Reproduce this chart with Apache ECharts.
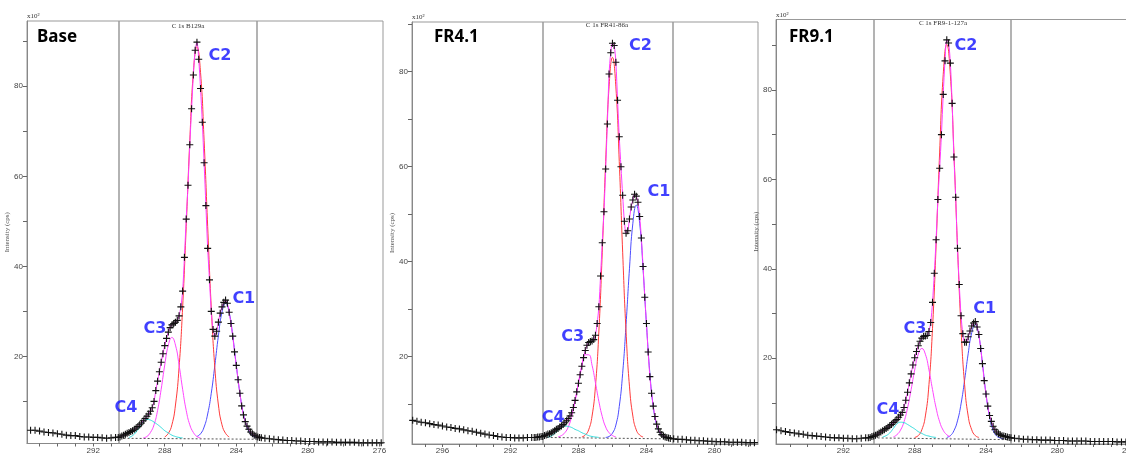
<!DOCTYPE html>
<html>
<head>
<meta charset="utf-8">
<script src="https://cdn.jsdelivr.net/npm/echarts@6/dist/echarts.min.js"></script>
<style>
  html, body { margin: 0; padding: 0; background: #fff; }
  #chart { width: 1126px; height: 458px; }
</style>
</head>
<body>
<div id="chart"></div>
<script>
// binding energy of every measured point (eV)
const energy = [
  297.75, 297.5, 297.25, 297, 296.75, 296.5, 296.25, 296, 295.75, 295.5,
  295.25, 295, 294.75, 294.5, 294.25, 294, 293.75, 293.5, 293.25, 293,
  292.75, 292.5, 292.25, 292, 291.75, 291.5, 291.25, 291, 290.75,
  290.6, 290.5, 290.4, 290.3, 290.2, 290.1, 290.0, 289.9, 289.8, 289.7,
  289.6, 289.5, 289.4, 289.3, 289.2, 289.1, 289.0, 288.9, 288.8, 288.7,
  288.6, 288.5, 288.4, 288.3, 288.2, 288.1, 288.0, 287.9, 287.8, 287.7,
  287.6, 287.5, 287.4, 287.3, 287.2, 287.1, 287.0, 286.9, 286.8, 286.7,
  286.6, 286.5, 286.4, 286.3, 286.2, 286.1, 286.0, 285.9, 285.8, 285.7,
  285.6, 285.5, 285.4, 285.3, 285.2, 285.1, 285.0, 284.9, 284.8, 284.7,
  284.6, 284.5, 284.4, 284.3, 284.2, 284.1, 284.0, 283.9, 283.8, 283.7,
  283.6, 283.5, 283.4, 283.3, 283.2, 283.1, 283.0, 282.9, 282.8, 282.7,
  282.6,
  282.4, 282.15, 281.9, 281.65, 281.4, 281.15, 280.9, 280.65, 280.4, 280.15,
  279.9, 279.65, 279.4, 279.15, 278.9, 278.65, 278.4, 278.15, 277.9, 277.65,
  277.4, 277.15, 276.9, 276.65, 276.4, 276.15, 275.9, 275.65
];

// intensity, x10^2 cps
const baseCounts = [
  null, null, null, null, null, null, null, null, 3.8, 3.6,
  3.6, 3.4, 3.2, 3.1, 3.0, 2.8, 2.7, 2.5, 2.4, 2.4,
  2.2, 2.1, 2.1, 2.0, 2.0, 1.9, 1.8, 1.9, 2.0,
  2.0, 2.1, 2.3, 2.5, 2.7, 2.9, 3.1, 3.3, 3.5, 3.8,
  4.1, 4.4, 4.8, 5.2, 5.7, 6.2, 6.7, 7.2, 7.8, 8.6,
  10.0, 12.4, 14.5, 16.6, 18.7, 20.6, 22.4, 24.0, 25.4, 26.4,
  27.0, 27.3, 27.6, 28.0, 29.0, 31.0, 34.5, 42.0, 50.5, 58.0,
  67.0, 75.0, 82.5, 88.0, 89.8, 86.0, 79.5, 72.0, 63.0, 53.5,
  44.0, 37.0, 30.0, 26.0, 24.5, 25.6, 27.6, 29.6, 31.0, 32.0,
  32.5, 31.8, 29.8, 27.3, 24.5, 21.0, 18.0, 14.8, 11.8, 9.0,
  7.0, 5.5, 4.5, 3.8, 3.2, 2.8, 2.5, 2.3, 2.1, 2.0,
  1.9,
  1.8, 1.7, 1.6, 1.5, 1.4, 1.3, 1.3, 1.2, 1.2, 1.1,
  1.1, 1.1, 1.0, 1.0, 1.0, 1.0, 0.9, 0.9, 0.9, 0.9,
  0.9, 0.8, 0.8, 0.8, 0.8, 0.8, 0.8, null
];
const fr41Counts = [
  6.6, 6.4, 6.2, 6.1, 5.9, 5.7, 5.6, 5.4, 5.2, 5.1,
  4.9, 4.8, 4.6, 4.4, 4.3, 4.1, 3.9, 3.7, 3.5, 3.4,
  3.2, 3.1, 3.0, 3.0, 2.9, 2.9, 2.9, 3.0, 3.0,
  3.0, 3.0, 3.1, 3.1, 3.2, 3.2, 3.4, 3.5, 3.7, 3.8,
  4.0, 4.2, 4.4, 4.7, 4.9, 5.2, 5.4, 5.7, 6.1, 6.5,
  7.0, 7.5, 8.2, 9.3, 10.8, 12.6, 14.4, 16.2, 18.0, 19.8,
  21.3, 22.4, 23.0, 23.2, 23.3, 23.6, 24.5, 27.0, 30.5, 37.0,
  44.0, 50.5, 59.5, 69.0, 79.5, 84.0, 86.0, 85.5, 82.0, 74.0,
  66.3, 60.0, 54.0, 48.5, 46.0, 46.5, 49.0, 51.5, 53.0, 54.2,
  53.8, 52.5, 49.5, 45.0, 39.0, 32.5, 27.0, 21.0, 15.8, 12.3,
  9.6, 7.4, 5.8, 4.8, 4.1, 3.6, 3.3, 3.1, 3.0, 2.9,
  2.8,
  2.7, 2.6, 2.6, 2.5, 2.4, 2.4, 2.3, 2.3, 2.2, 2.2,
  2.1, 2.1, 2.1, 2.0, 2.0, 2.0, 2.0, 1.9, 1.9, 1.9,
  1.9, null, null, null, null, null, null, null
];
const fr91Counts = [
  null, null, null, null, null, null, null, null, 4.0, 3.8,
  3.6, 3.4, 3.3, 3.1, 3.0, 2.8, 2.7, 2.6, 2.5, 2.4,
  2.3, 2.2, 2.2, 2.1, 2.1, 2.0, 2.0, 2.1, 2.2,
  2.2, 2.3, 2.5, 2.6, 2.8, 3.0, 3.3, 3.5, 3.8, 4.0,
  4.3, 4.6, 4.9, 5.2, 5.6, 6.0, 6.3, 6.8, 7.3, 7.9,
  9.0, 10.6, 12.4, 14.5, 16.5, 18.5, 20.1, 21.5, 22.8, 23.8,
  24.5, 24.9, 25.0, 25.1, 26.0, 28.0, 32.5, 39.0, 46.5, 55.5,
  62.5, 70.0, 79.0, 86.5, 91.2, 90.5, 86.0, 77.0, 65.0, 56.0,
  44.6, 36.5, 29.5, 25.5, 23.6, 23.6, 24.8, 26.1, 27.2, 27.9,
  28.2, 27.0, 25.3, 22.2, 18.8, 15.0, 12.0, 9.3, 7.2, 5.9,
  4.8, 4.0, 3.5, 3.1, 2.9, 2.7, 2.6, 2.5, 2.4, 2.3,
  2.2,
  2.1, 2.0, 1.9, 1.9, 1.8, 1.8, 1.7, 1.7, 1.7, 1.6,
  1.6, 1.6, 1.5, 1.5, 1.5, 1.5, 1.5, 1.4, 1.4, 1.4,
  1.4, 1.4, 1.4, 1.3, 1.3, 1.3, 1.3, null
];

// energies of the fitted component curves
const compEnergy = [
  290.6, 290.4, 290.2, 290.0, 289.8, 289.6, 289.4, 289.2, 289.0, 288.8,
  288.6, 288.4, 288.2, 288.0, 287.8, 287.6, 287.4, 287.2, 287.0, 286.8,
  286.6, 286.4, 286.2, 286.0, 285.8, 285.6, 285.4, 285.2, 285.0, 284.8,
  284.6, 284.4, 284.2, 284.0, 283.8, 283.6, 283.4, 283.2, 283.0, 282.8,
  282.6
];

const baseC1 = [
  null, null, null, null, null, null, null, null, null, null,
  null, null, null, null, null, null, null, null, null, null,
  null, null, 2.2, 2.8, 4.3, 7.2, 11.8, 18.0, 24.6, 29.8,
  31.8, 29.8, 24.6, 18.0, 11.8, 7.2, 4.3, 2.8, 2.2, 1.9,
  null
];
const baseC2 = [
  null, null, null, null, null, null, null, null, null, null,
  null, null, null, 2.1, 2.9, 4.8, 9.2, 17.5, 30.9, 48.8,
  67.9, 83.1, 88.8, 83.1, 67.9, 48.8, 30.9, 17.5, 9.2, 4.8,
  2.9, 2.1, null, null, null, null, null, null, null, null,
  null
];
const baseC3 = [
  null, null, null, null, null, null, null, 1.9, 2.2, 3.1,
  4.8, 8.0, 12.7, 18.1, 22.5, 24.2, 22.5, 18.1, 12.7, 8.0,
  4.8, 3.1, 2.2, 1.9, null, null, null, null, null, null,
  null, null, null, null, null, null, null, null, null, null,
  null
];
const baseC4 = [
  null, null, null, 2.0, 2.4, 3.2, 4.35, 5.5, 6.0, 5.85,
  5.4, 4.85, 4.2, 3.5, 3.0, 2.5, 2.2, 2.0, 1.9, null,
  null, null, null, null, null, null, null, null, null, null,
  null, null, null, null, null, null, null, null, null, null,
  null
];

const fr41C1 = [
  null, null, null, null, null, null, null, null, null, null,
  null, null, null, null, null, null, null, null, null, null,
  null, 3.0, 3.2, 3.9, 5.6, 9.5, 16.5, 26.8, 38.5, 48.1,
  51.9, 48.1, 38.5, 26.8, 16.5, 9.5, 5.6, 3.9, 3.2, 3.0,
  2.9
];
const fr41C2 = [
  null, null, null, null, null, null, null, null, null, null,
  null, null, null, null, 3.1, 3.5, 4.6, 7.5, 13.8, 25.2,
  42.0, 61.1, 76.8, 83.0, 76.8, 61.1, 42.0, 25.2, 13.8, 7.5,
  4.6, 3.5, 3.1, null, null, null, null, null, null, null,
  null
];
const fr41C3 = [
  null, null, null, null, null, null, null, 3.1, 3.4, 4.0,
  5.2, 7.4, 10.6, 14.5, 18.2, 20.4, 20.4, 18.2, 14.5, 10.6,
  7.4, 5.2, 4.0, 3.4, 3.1, null, null, null, null, null,
  null, null, null, null, null, null, null, null, null, null,
  null
];
const fr41C4 = [
  null, null, null, null, 3.1, 3.3, 3.8, 4.5, 5.1, 5.4,
  5.3, 5.1, 4.7, 4.4, 4.0, 3.7, 3.4, 3.2, 3.1, 3.0,
  null, null, null, null, null, null, null, null, null, null,
  null, null, null, null, null, null, null, null, null, null,
  null
];

const fr91C1 = [
  null, null, null, null, null, null, null, null, null, null,
  null, null, null, null, null, null, null, null, null, null,
  null, null, 2.3, 2.7, 3.8, 6.0, 9.8, 15.1, 21.0, 25.7,
  27.5, 25.0, 18.9, 12.0, 6.9, 3.9, 2.6, 2.2, 2.0, null,
  null
];
const fr91C2 = [
  null, null, null, null, null, null, null, null, null, null,
  null, null, null, 2.3, 2.7, 4.0, 7.1, 14.1, 26.7, 45.1,
  66.1, 83.4, 90.2, 83.4, 66.1, 45.1, 26.7, 14.1, 7.1, 4.0,
  2.7, 2.3, null, null, null, null, null, null, null, null,
  null
];
const fr91C3 = [
  null, null, null, null, null, null, null, 2.4, 2.9, 3.9,
  5.8, 8.9, 13.0, 17.4, 20.9, 22.2, 20.9, 17.4, 13.0, 8.9,
  5.8, 3.9, 2.9, 2.4, null, null, null, null, null, null,
  null, null, null, null, null, null, null, null, null, null,
  null
];
const fr91C4 = [
  null, null, null, null, 2.4, 2.7, 3.3, 4.3, 5.3, 5.7,
  5.6, 5.2, 4.7, 4.2, 3.6, 3.2, 2.8, 2.6, 2.4, 2.3,
  null, null, null, null, null, null, null, null, null, null,
  null, null, null, null, null, null, null, null, null, null,
  null
];

// background line and fit region limits
const baseBackground = [[290.3, 1.8], [282.8, 1.6]];
const fr41Background = [[290.1, 3.0], [282.5, 2.7]];
const fr91Background = [[290.3, 2.2], [282.7, 1.8]];
const baseRegion = [290.56, 282.85];
const fr41Region = [290.08, 282.44];
const fr91Region = [290.28, 282.6];
const envelopeRange = [282.6, 290.6];

const panelNames = ["Base", "FR4.1", "FR9.1"];
const scanTitles = ["C 1s B129a", "C 1s FR41-86a", "C 1s FR9-1-127a"];
const peakLabels = [
  [["C1", 283.58, 32.7], ["C2", 284.92, 86.7], ["C3", 288.55, 26.1], ["C4", 290.17, 8.5]],
  [["C1", 283.26, 54.6], ["C2", 284.35, 85.4], ["C3", 288.34, 24.1], ["C4", 289.49, 7.2]],
  [["C1", 284.08, 31.0], ["C2", 285.13, 89.8], ["C3", 287.99, 26.5], ["C4", 289.5, 8.4]]
];

const panels = [
  { counts: baseCounts, comps: [baseC1, baseC2, baseC3, baseC4], bg: baseBackground, region: baseRegion },
  { counts: fr41Counts, comps: [fr41C1, fr41C2, fr41C3, fr41C4], bg: fr41Background, region: fr41Region },
  { counts: fr91Counts, comps: [fr91C1, fr91C2, fr91C3, fr91C4], bg: fr91Background, region: fr91Region }
];

// layout of the three plot boxes (pixels) and their axis windows
const layout = [
  { left: 27, top: 21, width: 356, height: 422.5, xMin: 275.8, xMax: 295.7, yMin: 0.65, yMax: 94.5, nameX: 37, scanX: 188, scanY: 26 },
  { left: 412, top: 22, width: 346, height: 422, xMin: 277.44, xMax: 297.79, yMin: 1.62, yMax: 90.46, nameX: 434, scanX: 607, scanY: 25 },
  { left: 776, top: 19.5, width: 356, height: 424.5, xMin: 275.81, xMax: 295.78, yMin: 0.83, yMax: 95.75, nameX: 789, scanX: 943, scanY: 23 }
];

const compColors = ["#4d4dff", "#ff3b3b", "#ff44ff", "#33dddd"];
const plusSymbol = "path://M0,3.5L7,3.5M3.5,0L3.5,7";

const chart = echarts.init(document.getElementById("chart"));

const grids = [], xAxes = [], yAxes = [], series = [], graphics = [];

const nearMultiple = (v, m) => Math.abs(v - Math.round(v / m) * m) < 1e-6;

panels.forEach((p, i) => {
  const L = layout[i];
  grids.push({
    left: L.left, top: L.top, width: L.width, height: L.height,
    outerBoundsMode: "none", containLabel: false,
    show: true, borderColor: "#999", borderWidth: 1, backgroundColor: "transparent"
  });
  xAxes.push({
    gridIndex: i, type: "value", inverse: true, min: L.xMin, max: L.xMax, splitNumber: 20,
    name: "Binding Energy (eV)", nameLocation: "middle", nameGap: 12,
    nameTextStyle: { fontSize: 7, color: "#555", fontFamily: "Liberation Serif" },
    axisLine: { lineStyle: { color: "#888", width: 1 } },
    axisTick: { show: true, length: 3, lineStyle: { color: "#666" } },
    axisLabel: {
      fontSize: 8, color: "#444", margin: 3, fontFamily: "Liberation Sans",
      showMinLabel: false, showMaxLabel: false,
      formatter: (v) => (nearMultiple(v, 4) ? String(Math.round(v)) : "")
    },
    splitLine: { show: false }
  });
  yAxes.push({
    gridIndex: i, type: "value", min: L.yMin, max: L.yMax, splitNumber: 9,
    name: "Intensity (cps)", nameLocation: "middle", nameGap: 12, nameRotate: 90,
    nameTextStyle: { fontSize: 7, color: "#555", fontFamily: "Liberation Serif" },
    axisLine: { show: true, lineStyle: { color: "#888", width: 1 } },
    axisTick: { show: true, length: 4, lineStyle: { color: "#666" } },
    axisLabel: {
      fontSize: 8, color: "#444", margin: 4, fontFamily: "Liberation Sans",
      showMinLabel: false, showMaxLabel: false,
      formatter: (v) => (nearMultiple(v, 20) && v > 1 ? String(Math.round(v)) : "")
    },
    splitLine: { show: false }
  });

  // background line with the fit region markers
  series.push({
    type: "line", xAxisIndex: i, yAxisIndex: i, data: p.bg, symbol: "none", silent: true, z: 2,
    lineStyle: { color: "#555", width: 1, type: [2, 2] },
    markLine: {
      silent: true, symbol: "none", label: { show: false },
      lineStyle: { color: "#9a9a9a", width: 1.5, type: "solid" },
      data: p.region.map((v) => ({ xAxis: v }))
    }
  });

  p.comps.forEach((c, k) => {
    series.push({
      type: "line", xAxisIndex: i, yAxisIndex: i, smooth: true, symbol: "none", silent: true, z: 3,
      data: compEnergy.map((e, j) => [e, c[j]]).filter((d) => d[1] != null),
      lineStyle: { color: compColors[k], width: 1 }
    });
  });

  const points = energy.map((e, j) => [e, p.counts[j]]).filter((d) => d[1] != null);

  // fitted envelope
  series.push({
    type: "line", xAxisIndex: i, yAxisIndex: i, smooth: 0.3, symbol: "none", silent: true, z: 4,
    data: points.filter((d) => d[0] >= envelopeRange[0] && d[0] <= envelopeRange[1]),
    lineStyle: { color: "#ff3cff", width: 1 }
  });

  // measured points
  series.push({
    type: "scatter", xAxisIndex: i, yAxisIndex: i, symbol: plusSymbol, symbolSize: 7, silent: true, z: 5,
    data: points,
    itemStyle: { color: "transparent", borderColor: "#111", borderWidth: 1.1, opacity: 1 }
  });

  // C1..C4 annotations
  series.push({
    type: "scatter", xAxisIndex: i, yAxisIndex: i, symbolSize: 0, silent: true, z: 6,
    data: peakLabels[i].map((l) => ({ value: [l[1], l[2]], name: l[0] })),
    label: {
      show: true, position: "inside", formatter: "{b}",
      color: "#1010ff", fontSize: 16, fontWeight: "bold", fontFamily: "DejaVu Sans"
    }
  });

  graphics.push({
    type: "text", x: L.nameX, y: 29,
    style: { text: panelNames[i], font: 'bold 17px "Noto Sans"', fill: "#000" }
  });
  graphics.push({
    type: "text", x: L.scanX, y: L.scanY,
    style: { text: scanTitles[i], font: '7px "Liberation Serif"', fill: "#333", textAlign: "center", textVerticalAlign: "middle", align: "center", verticalAlign: "middle" }
  });
  graphics.push({
    type: "text", x: L.left, y: L.top - 8,
    style: { text: "x10²", font: '7px "Liberation Serif"', fill: "#333" }
  });
});

chart.setOption({
  animation: false,
  backgroundColor: "#fff",
  grid: grids,
  xAxis: xAxes,
  yAxis: yAxes,
  series: series,
  graphic: graphics
});
</script>
</body>
</html>
